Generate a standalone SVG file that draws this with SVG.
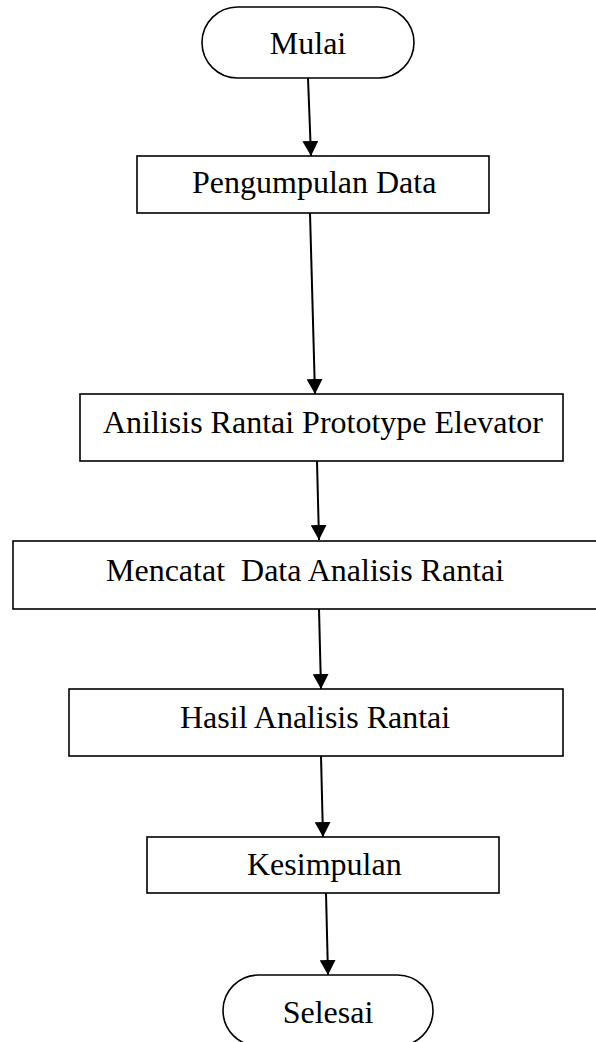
<svg xmlns="http://www.w3.org/2000/svg" width="596" height="1042" viewBox="0 0 596 1042">
  <style>
    .box { fill: #ffffff; stroke: #000000; stroke-width: 1.6; }
    .lbl { font-family: "Liberation Serif", "Times New Roman", serif; font-size: 32px; fill: #000000; }
    .edge { stroke: #000000; stroke-width: 2; fill: none; marker-end: url(#arrow); }
  </style>
  <defs>
    <marker id="arrow" markerUnits="userSpaceOnUse" markerWidth="16" markerHeight="16" viewBox="0 0 16 16" refX="15" refY="8" orient="auto">
      <path d="M0,0 L15,8 L0,16 Z" fill="#000000"/>
    </marker>
  </defs>
  <rect width="596" height="1042" fill="#ffffff"/>

  <g id="connectors">
    <path class="edge" d="M308,78 L311,156"/>
    <path class="edge" d="M310,213 L315,394"/>
    <path class="edge" d="M317,461 L319,540"/>
    <path class="edge" d="M319,609 L321,689"/>
    <path class="edge" d="M321,756 L323,837"/>
    <path class="edge" d="M326,893 L328,975"/>
  </g>

  <g id="mulai">
    <rect class="box" x="202" y="7" width="212" height="71" rx="35.5" ry="35.5"/>
    <text class="lbl" x="308" y="54" text-anchor="middle">Mulai</text>
  </g>
  <g id="pengumpulan">
    <rect class="box" x="137" y="156" width="352" height="57"/>
    <text class="lbl" x="192" y="193">Pengumpulan Data</text>
  </g>
  <g id="anilisis">
    <rect class="box" x="80" y="394" width="483" height="67"/>
    <text class="lbl" x="103" y="433">Anilisis Rantai Prototype Elevator</text>
  </g>
  <g id="mencatat">
    <rect class="box" x="13" y="541" width="586" height="68"/>
    <text class="lbl" x="106" y="581" xml:space="preserve">Mencatat  Data Analisis Rantai</text>
  </g>
  <g id="hasil">
    <rect class="box" x="69" y="689" width="494" height="67"/>
    <text class="lbl" x="180" y="728">Hasil Analisis Rantai</text>
  </g>
  <g id="kesimpulan">
    <rect class="box" x="147" y="837" width="352" height="56"/>
    <text class="lbl" x="247" y="875">Kesimpulan</text>
  </g>
  <g id="selesai">
    <rect class="box" x="223" y="975" width="210" height="71" rx="35.5" ry="35.5"/>
    <text class="lbl" x="328" y="1023" text-anchor="middle">Selesai</text>
  </g>
</svg>
